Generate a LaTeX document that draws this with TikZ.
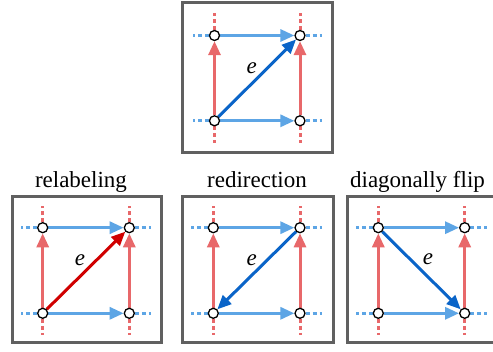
\documentclass[tikz,border=0pt]{standalone}
\usepackage{fontspec}
\setmainfont{Liberation Serif}
\usetikzlibrary{arrows.meta,backgrounds}
\pgfdeclarelayer{bottom}
\pgfsetlayers{bottom,background,main}
\definecolor{vred}{HTML}{E8686A}
\definecolor{hblue}{HTML}{5DA5E5}
\definecolor{dblue}{HTML}{0A64C8}
\definecolor{dred}{HTML}{D00000}
\definecolor{boxgray}{HTML}{606060}
\newcommand\mypanel[5]{%
  \node[vtx] (#1-tl) at (#2,#4) {};
  \node[vtx] (#1-tr) at (#3,#4) {};
  \node[vtx] (#1-bl) at (#2,#5) {};
  \node[vtx] (#1-br) at (#3,#5) {};
  \coordinate (#1-tlu) at (#2,#4-22);
  \coordinate (#1-tru) at (#3,#4-22);
  \coordinate (#1-bld) at (#2,#5+22);
  \coordinate (#1-brd) at (#3,#5+22);
  \coordinate (#1-tll) at (#2-22,#4);
  \coordinate (#1-bll) at (#2-22,#5);
  \coordinate (#1-trr) at (#3+22,#4);
  \coordinate (#1-brr) at (#3+22,#5);
  \begin{scope}[on background layer]
    \draw[vdash] (#1-tl) -- (#1-tlu);
    \draw[vdash] (#1-tr) -- (#1-tru);
    \draw[vdash] (#1-bl) -- (#1-bld);
    \draw[vdash] (#1-br) -- (#1-brd);
    \draw[hdash] (#1-tl) -- (#1-tll);
    \draw[hdash] (#1-bl) -- (#1-bll);
    \draw[hdash] (#1-tr) -- (#1-trr);
    \draw[hdash] (#1-br) -- (#1-brr);
    \draw[varrow] (#1-bl) -- (#1-tl);
    \draw[varrow] (#1-br) -- (#1-tr);
    \draw[harrow] (#1-tl) -- (#1-tr);
    \draw[harrow] (#1-bl) -- (#1-br);
  \end{scope}%
}
\begin{document}
\begin{tikzpicture}[x=1pt,y=-1pt,
  tip/.style={-{Triangle[length=14pt,width=12pt]}},
  vtx/.style={circle,draw=black,fill=white,line width=1.3pt,inner sep=0pt,minimum size=10pt},
  frame/.style={draw=boxgray,line width=3pt},
  varrow/.style={draw=vred,line width=3pt,tip},
  harrow/.style={draw=hblue,line width=3pt,tip},
  vdash/.style={draw=vred,line width=3pt,dash pattern=on 4pt off 3pt},
  hdash/.style={draw=hblue,line width=3pt,dash pattern=on 4pt off 3pt},
  diag/.style={line width=3pt,tip},
  lbl/.style={font=\fontsize{23}{27}\selectfont,inner sep=0pt,anchor=base},
  elbl/.style={font=\fontsize{23}{27}\selectfont\itshape,inner sep=0pt}
]
\useasboundingbox (0,0) rectangle (493,352);
\begin{pgfonlayer}{bottom}
\fill[white] (0,0) rectangle (493,352);
\end{pgfonlayer}
% frames
\draw[frame] (182.5,2.2) rectangle (332,152.3);
\draw[frame] (12.3,196.3) rectangle (161.5,342.3);
\draw[frame] (182.7,196.3) rectangle (333,342.3);
\draw[frame] (347.3,196.3) rectangle (497,342.3);
% panels
\mypanel{t}{214.5}{300}{35.5}{120.8}
\mypanel{a}{42.7}{129.3}{227.7}{313.3}
\mypanel{b}{213.3}{300}{227.7}{313.3}
\mypanel{c}{378.3}{464.7}{227.7}{313.3}
% diagonals
\begin{scope}[on background layer]
  \draw[diag,draw=dblue] (t-bl) -- (t-tr);
  \draw[diag,draw=dred] (a-bl) -- (a-tr);
  \draw[diag,draw=dblue] (b-tr) -- (b-bl);
  \draw[diag,draw=dblue] (c-tl) -- (c-br);
\end{scope}
% labels
\node[elbl] (te) at (251.7,68) {e};
\node[elbl] (ae) at (80,260) {e};
\node[elbl] (be) at (251.7,260) {e};
\node[elbl] (ce) at (428,259) {e};
\node[lbl] (la) at (81,187.3) {relabeling};
\node[lbl] (lb) at (257,187.3) {redirection};
\node[lbl] (lc) at (417.5,187.3) {diagonally flip};
\end{tikzpicture}
\end{document}
